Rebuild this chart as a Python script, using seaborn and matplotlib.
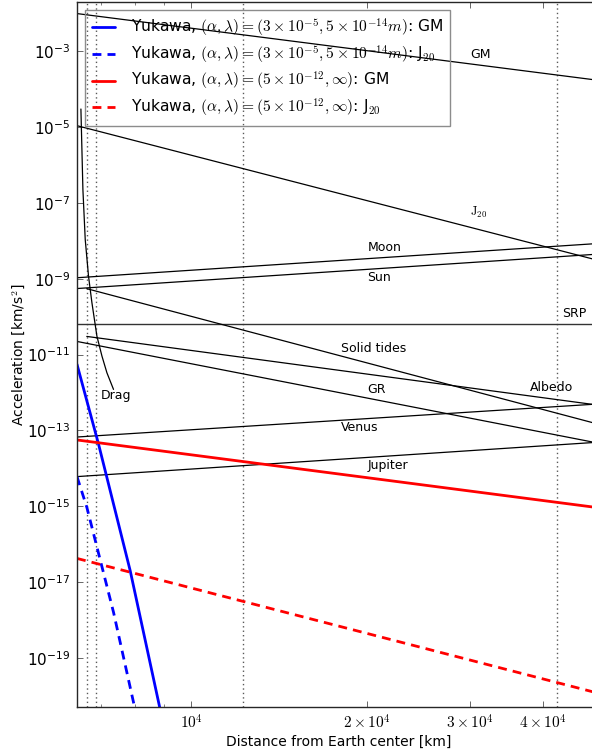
import numpy as np
import pandas as pd
import matplotlib
matplotlib.use("Agg")
import matplotlib.pyplot as plt
import seaborn as sns
from matplotlib.ticker import FixedLocator, FixedFormatter, NullFormatter, LogFormatterSciNotation

# --- perturbing accelerations vs. geocentric distance [km] -> [km/s^2] ---
r_span = [6378, 48500]
acc_gm = [9.9e-3, 1.8e-4]
acc_j20 = [1.09e-5, 3.34e-9]
acc_moon = [1.06e-9, 8.3e-9]
acc_sun = [5.5e-10, 4.35e-9]
acc_srp = [6.2e-11, 6.2e-11]
acc_gr = [2.21e-11, 4.92e-14]
acc_venus = [6.65e-14, 4.84e-13]
acc_jupiter = [6.0e-15, 4.74e-14]

r_leo_span = [6628, 48500]
acc_solid_tides = [5.46e-10, 1.6e-13]
acc_albedo = [3.0e-11, 4.84e-13]

r_drag = [6477, 6528, 6588, 6674, 6764, 6898, 7036, 7175, 7364]
acc_drag = [3.0e-5, 2.24e-7, 1.08e-8, 1.16e-9, 2.32e-10, 3.05e-11, 9.1e-12, 3.3e-12, 1.2e-12]

# Yukawa-type deviations
yuk_inf_gm = [5.56e-14, 9.5e-16]
yuk_inf_j20 = [4.16e-17, 1.27e-20]
r_yuk_short_gm = [6378, 6943, 7865, 8830]
yuk_short_gm = [5.5e-12, 4.3e-14, 1.96e-17, 5.0e-21]
r_yuk_short_j20 = [6378, 6631, 7018, 7365, 8000]
yuk_short_j20 = [6.0e-15, 9.2e-16, 2.94e-17, 1.57e-18, 5.0e-21]

# reference orbits (dotted verticals)
r_orbits = [6628, 6878, 12270, 42164]

legend_labels = [
    r"Yukawa, $(\alpha,\lambda)=(3\times10^{-5},5\times10^{-14}m)$: GM",
    r"Yukawa, $(\alpha,\lambda)=(3\times10^{-5},5\times10^{-14}m)$: J$_{20}$",
    r"Yukawa, $(\alpha,\lambda)=(5\times10^{-12},\infty)$: GM",
    r"Yukawa, $(\alpha,\lambda)=(5\times10^{-12},\infty)$: J$_{20}$",
]

annotations = [
    ("GM", 3.0e4, 8.1e-4),
    (r"$\mathrm{J}_{20}$", 3.0e4, 5.5e-8),
    ("Moon", 2.0e4, 6.8e-9),
    ("Sun", 2.0e4, 1.1e-9),
    ("SRP", 4.3e4, 1.19e-10),
    ("Solid tides", 1.8e4, 1.42e-11),
    ("GR", 2.0e4, 1.2e-12),
    ("Albedo", 3.8e4, 1.38e-12),
    ("Venus", 1.8e4, 1.18e-13),
    ("Jupiter", 2.0e4, 1.15e-14),
    ("Drag", 7.0e3, 8.5e-13),
]

x_major = [1e4, 2e4, 3e4, 4e4]
x_major_labels = [r"$10^4$", r"$2\times10^4$", r"$3\times10^4$", r"$4\times10^4$"]
x_minor = [7e3, 8e3, 9e3, 5e4]
y_major = [10.0 ** e for e in range(-19, -2, 2)]

sns.set_style("ticks")
plt.rcParams["font.family"] = ["DejaVu Sans"]
plt.rcParams["mathtext.fontset"] = "cm"
plt.rcParams["text.color"] = "k"
plt.rcParams["axes.labelcolor"] = "k"
plt.rcParams["xtick.color"] = "k"
plt.rcParams["ytick.color"] = "k"

fig = plt.figure(figsize=(5.92, 7.56), dpi=100)
ax = fig.add_axes([77 / 592, 49 / 756, 523 / 592, 705 / 756])
ax.set_xscale("log")
ax.set_yscale("log")


def draw(x, y, **kw):
    df = pd.DataFrame({"r": x, "a": y})
    sns.lineplot(data=df, x="r", y="a", ax=ax, sort=False, estimator=None,
                 legend=False, **kw)
    return ax.lines[-1]


for r in r_orbits:
    ax.axvline(r, color="0.35", lw=1.0, ls=(0, (1, 2.2)), zorder=1)

black = dict(color="k", lw=0.9)
draw(r_span, acc_gm, **black)
draw(r_span, acc_j20, **black)
draw(r_span, acc_moon, **black)
draw(r_span, acc_sun, **black)
draw(r_span, acc_srp, color="0.2", lw=1.0)
draw(r_leo_span, acc_solid_tides, **black)
draw(r_leo_span, acc_albedo, **black)
draw(r_span, acc_gr, **black)
draw(r_span, acc_venus, **black)
draw(r_span, acc_jupiter, **black)
draw(r_drag, acc_drag, **black)

h1 = draw(r_yuk_short_gm, yuk_short_gm, color="#0000ff", lw=2)
h2 = draw(r_yuk_short_j20, yuk_short_j20, color="#0000ff", lw=2, ls=(0, (3.2, 2.2)))
h3 = draw(r_span, yuk_inf_gm, color="#ff0000", lw=2)
h4 = draw(r_span, yuk_inf_j20, color="#ff0000", lw=2, ls=(0, (3.2, 2.2)))

for txt, x, y in annotations:
    ax.text(x, y, txt, fontsize=9, ha="left", va="center", color="k")

ax.set_xlim(6378, 5e4)
ax.set_ylim(5e-21, 2e-2)

ax.xaxis.set_major_locator(FixedLocator(x_major))
ax.xaxis.set_major_formatter(FixedFormatter(x_major_labels))
ax.xaxis.set_minor_locator(FixedLocator(x_minor))
ax.xaxis.set_minor_formatter(NullFormatter())
ax.yaxis.set_major_locator(FixedLocator(y_major))
ax.yaxis.set_major_formatter(LogFormatterSciNotation())
ax.yaxis.set_minor_locator(FixedLocator([]))

ax.tick_params(which="both", direction="in", top=True, right=True, color="0.3")
ax.tick_params(which="major", length=4.5, width=0.6)
ax.tick_params(which="minor", length=2.5, width=0.5)
ax.tick_params(axis="y", labelsize=11, pad=5, labelcolor="k")
ax.tick_params(axis="x", labelsize=11, pad=5, labelcolor="k")
for s in ax.spines.values():
    s.set_linewidth(1.0)
    s.set_color("0.15")

ax.set_xlabel("Distance from Earth center [km]", fontsize=10, labelpad=2)
ax.set_ylabel(r"Acceleration [km/s$^2$]", fontsize=10, labelpad=0)

leg = ax.legend([h1, h2, h3, h4], legend_labels, loc="upper left", fontsize=11.2,
                frameon=True, fancybox=False, framealpha=1, edgecolor="0.55",
                handlelength=1.5, handletextpad=1.0, borderaxespad=0.5,
                labelspacing=0.28, borderpad=0.45)
leg.get_frame().set_facecolor("none")
leg.get_frame().set_linewidth(1.0)
for t in leg.get_texts():
    t.set_color("k")

fig.savefig("out.png", dpi=100)
